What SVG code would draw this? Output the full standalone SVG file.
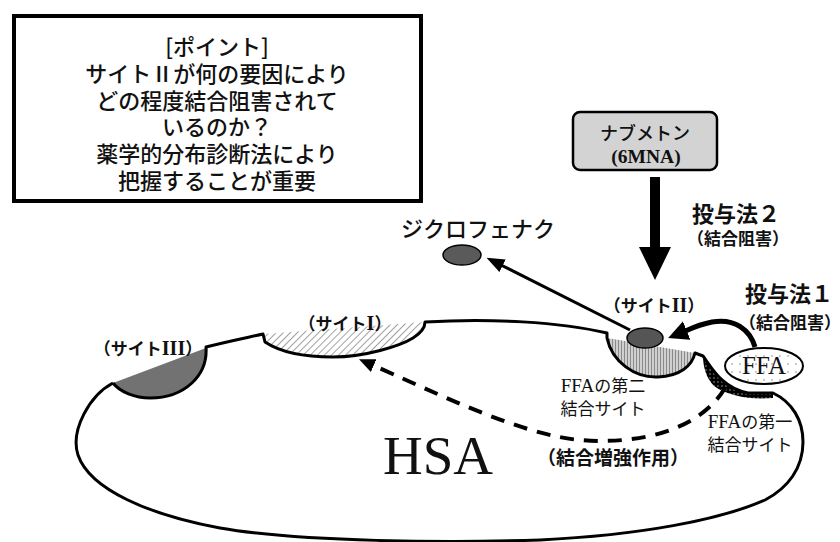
<svg xmlns="http://www.w3.org/2000/svg" width="840" height="542" viewBox="0 0 840 542">
<style>
.jp{font-family:"Noto Sans CJK JP","Noto Sans",sans-serif;fill:#111}
.m{font-weight:500}
.b{font-weight:bold}
.ser{font-family:"Liberation Serif","Times New Roman",serif;fill:#111}
.ln{fill:none;stroke:#000;stroke-linejoin:round}
</style>
<defs>
<pattern id="hatch" width="5" height="5" patternUnits="userSpaceOnUse" patternTransform="rotate(45)"><line x1="0" y1="0" x2="0" y2="5" stroke="#444" stroke-width="1"/></pattern>
<pattern id="vstripe" width="3" height="10" patternUnits="userSpaceOnUse"><rect width="3" height="10" fill="#cfcfcf"/><line x1="0.5" y1="0" x2="0.5" y2="10" stroke="#8a8a8a" stroke-width="1"/></pattern>
<pattern id="dots" width="8" height="8" patternUnits="userSpaceOnUse"><rect width="8" height="8" fill="#fff"/><circle cx="4" cy="4" r="0.8" fill="#888"/></pattern>
<pattern id="bdots" width="4" height="4" patternUnits="userSpaceOnUse"><rect width="4" height="4" fill="#000"/><circle cx="2" cy="2" r="0.7" fill="#bbb"/></pattern>
<marker id="ahThin" markerUnits="userSpaceOnUse" markerWidth="18" markerHeight="14" refX="4" refY="7" orient="auto"><path d="M0,0 L18,7 L0,14 z" fill="#000"/></marker>
<marker id="ahThick" markerUnits="userSpaceOnUse" markerWidth="20" markerHeight="20" refX="4" refY="10" orient="auto"><path d="M0,0 L20,10 L0,20 z" fill="#000"/></marker>
<marker id="ahDash" markerUnits="userSpaceOnUse" markerWidth="16" markerHeight="14" refX="4" refY="7" orient="auto"><path d="M0,0 L16,7 L0,14 z" fill="#000"/></marker>
</defs>

<g id="point-box">
<rect x="14" y="16" width="407" height="185" fill="#fff" stroke="#000" stroke-width="4"/>
<g class="jp m" font-size="22" text-anchor="middle">
<text x="217" y="55">[ポイント]</text>
<text x="217" y="82">サイトⅡが何の要因により</text>
<text x="217" y="109">どの程度結合阻害されて</text>
<text x="217" y="135">いるのか？</text>
<text x="217" y="162">薬学的分布診断法により</text>
<text x="217" y="189">把握することが重要</text>
</g>
</g>

<g id="hsa">
<path d="M113,383 L206,348 C206,375 185,398 150,398 C135,398 120,392 113,383 Z" fill="#727272"/>
<path d="M263,334 L425,322 C425,328 421,333 413,338 C400,346 365,357 333,357 C305,357 280,352 265,342 Z" fill="url(#hatch)"/>
<path d="M607,338 C630,342 665,348 695,353 C692,366 680,376 658,377 C635,378 612,362 607,338 Z" fill="url(#vstripe)"/>
<path d="M703,356 C712,368 722,386 748,393 L773,393 L773,398 C750,400 728,396 714,386 C706,378 703,366 703,356 Z" fill="url(#bdots)"/>
<path class="ln" stroke-width="3" d="M113,383 C120,392 135,398 150,398 C185,398 208,375 206,347 C225,342 245,338 263,334 L265,342 C280,352 305,357 333,357 C365,357 400,346 413,338 C421,333 425,328 425,322 C490,318 560,322 607,333 L607,338 C612,362 635,378 658,377 C680,376 692,366 695,353 L703,356 C712,368 722,388 748,393 L773,393 C792,402 803,420 803,442 C803,468 788,488 765,500 C720,520 640,535 540,540 C450,543 300,542 220,528 C150,515 90,490 78,455 C70,430 90,395 113,383"/>
<text class="ser" x="438" y="474" font-size="55" text-anchor="middle">HSA</text>
</g>

<g id="site3-label"><text class="jp b" x="148" y="355" font-size="17" text-anchor="middle">（サイト<tspan class="ser b" font-size="20">III</tspan>）</text></g>
<g id="site1-label"><text class="jp b" x="345" y="330" font-size="17" text-anchor="middle">（サイト<tspan class="ser b" font-size="20">I</tspan>）</text></g>
<g id="site2-label"><text class="jp b" x="654" y="312" font-size="17" text-anchor="middle">（サイト<tspan class="ser b" font-size="20">II</tspan>）</text></g>

<g id="site2-drug"><ellipse cx="645" cy="338" rx="18" ry="10" fill="#555" stroke="#000" stroke-width="1.5"/></g>

<g id="diclofenac">
<text class="jp m" x="478" y="237" font-size="22" text-anchor="middle">ジクロフェナク</text>
<ellipse cx="462" cy="255" rx="19" ry="10" fill="#5a5a5a" stroke="#000" stroke-width="1.5"/>
</g>

<g id="nabumetone">
<rect x="573" y="112" width="144" height="58" rx="7" fill="#d3d3d3" stroke="#000" stroke-width="2.5"/>
<text class="jp m" x="645" y="140" font-size="18" text-anchor="middle">ナブメトン</text>
<text class="ser b" x="646" y="163" font-size="19.5" text-anchor="middle">(6MNA)</text>
</g>

<g id="ffa">
<ellipse cx="764" cy="366" rx="39" ry="18" fill="url(#dots)" stroke="#000" stroke-width="2"/>
<text class="ser" x="764" y="374" font-size="25" text-anchor="middle">FFA</text>
</g>

<g id="labels">
<text class="jp b" x="736" y="222" font-size="22" text-anchor="middle">投与法２</text>
<text class="jp b" x="738" y="245" font-size="17" text-anchor="middle">（結合阻害）</text>
<text class="jp b" x="789" y="302" font-size="22" text-anchor="middle">投与法１</text>
<text class="jp b" x="790" y="329" font-size="17" text-anchor="middle">（結合阻害）</text>
<text class="jp" x="603" y="392" font-size="17" text-anchor="middle"><tspan class="ser" font-size="19">FFA</tspan>の第二</text>
<text class="jp" x="603" y="415" font-size="17" text-anchor="middle">結合サイト</text>
<text class="jp" x="750" y="428" font-size="17" text-anchor="middle"><tspan class="ser" font-size="19">FFA</tspan>の第一</text>
<text class="jp" x="750" y="451" font-size="17" text-anchor="middle">結合サイト</text>
<text class="jp b" x="613" y="465" font-size="19" text-anchor="middle">（結合増強作用）</text>
</g>

<g id="connectors">
<rect x="650" y="177" width="10" height="72" fill="#000"/>
<path d="M639,247 L671,247 L655,280 Z" fill="#000"/>
<path class="ln" stroke-width="3" d="M630,330 L499,264" marker-end="url(#ahThin)"/>
<path class="ln" stroke-width="5" d="M755,347 C750,330 735,318 712,322 C697,325 688,330 683,332" marker-end="url(#ahThick)"/>
<path class="ln" stroke-width="4" stroke-dasharray="14,10" d="M725,388 C700,430 640,445 580,440 C520,435 430,390 370,364" marker-end="url(#ahDash)"/>
</g>
</svg>
